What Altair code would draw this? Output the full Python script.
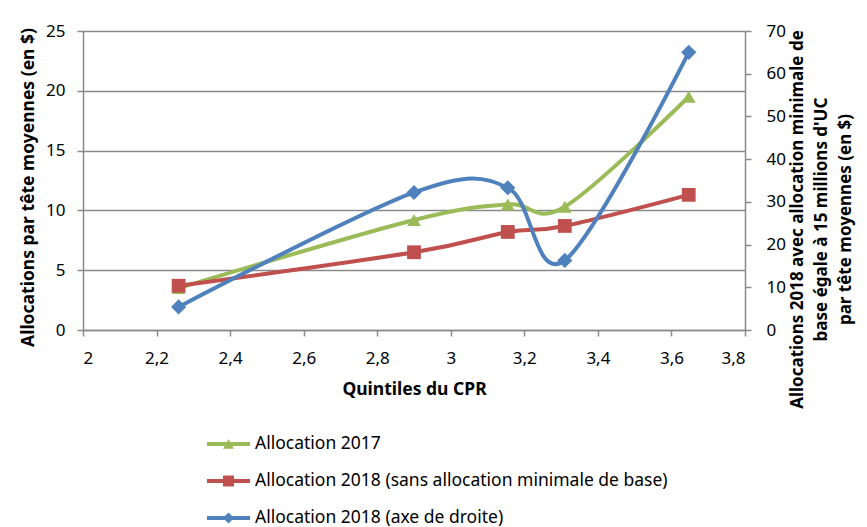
import altair as alt
import pandas as pd

# --- data ---
x_vals = [2.26, 2.9, 3.155, 3.31, 3.647]
alloc_2017 = [3.5, 9.2, 10.5, 10.3, 19.5]
alloc_2018_sans = [3.7, 6.5, 8.2, 8.7, 11.3]
alloc_2018_droite = [5.4, 32.2, 33.3, 16.3, 65.0]

series_names = [
    "Allocation 2017",
    "Allocation 2018 (sans allocation minimale de base)",
    "Allocation 2018 (axe de droite)",
]
colors = ["#9BBB59", "#C0504D", "#4F81BD"]
shapes = ["triangle-up", "square", "diamond"]

x_ticks = [2.0, 2.2, 2.4, 2.6, 2.8, 3.0, 3.2, 3.4, 3.6, 3.8]
left_ticks = [0, 5, 10, 15, 20, 25]
right_ticks = [0, 10, 20, 30, 40, 50, 60, 70]

FONT = "Noto Sans"
GRAY = "#8a8a8a"
W, H = 662, 299

df_left = pd.DataFrame({
    "x": x_vals * 2,
    "y": alloc_2017 + alloc_2018_sans,
    "serie": [series_names[0]] * 5 + [series_names[1]] * 5,
})
df_right = pd.DataFrame({"x": x_vals, "y": alloc_2018_droite, "serie": series_names[2]})

color_scale = alt.Scale(domain=series_names, range=colors)
shape_scale = alt.Scale(domain=series_names, range=shapes)

x_enc = alt.X(
    "x:Q",
    scale=alt.Scale(domain=[2, 3.8], nice=False),
    axis=alt.Axis(
        values=x_ticks,
        labelExpr="replace(toString(round(datum.value*10)/10), '.', ',')",
        title="Quintiles du CPR",
        grid=False,
        tickSize=6,
        labelPadding=14,
        titlePadding=14,
    ),
)

left_y = alt.Y(
    "y:Q",
    scale=alt.Scale(domain=[0, 25], nice=False),
    axis=alt.Axis(
        values=left_ticks,
        title="Allocations par tête moyennes (en $)",
        grid=True,
        tickSize=6,
        labelPadding=12,
        titlePadding=8,
        titleY=156,
    ),
)

right_y = alt.Y(
    "y:Q",
    scale=alt.Scale(domain=[0, 70], nice=False),
    axis=alt.Axis(
        orient="right",
        values=right_ticks,
        title=[
            "Allocations 2018 avec allocation minimale de",
            "base égale à 15 millions d'UC",
            "par tête moyennes (en $)",
        ],
        titleAngle=270,
        titleAlign="center",
        titleBaseline="middle",
        titleFontSize=17,
        titleLineHeight=24,
        titleX=52,
        titleY=188,
        grid=False,
        tickSize=6,
        labelPadding=15,
    ),
)

base_left = alt.Chart(df_left).encode(
    x=x_enc,
    y=left_y,
    color=alt.Color("serie:N", scale=color_scale, legend=None),
    shape=alt.Shape("serie:N", scale=shape_scale, legend=None),
    detail="serie:N",
)
left = alt.layer(
    base_left.mark_line(interpolate="cardinal", strokeWidth=4),
    base_left.mark_point(filled=True, opacity=1, size=190),
)

base_right = alt.Chart(df_right).encode(
    x=x_enc,
    y=right_y,
    color=alt.Color("serie:N", scale=color_scale, legend=None),
    shape=alt.Shape("serie:N", scale=shape_scale, legend=None),
)
right = alt.layer(
    base_right.mark_line(interpolate="cardinal", strokeWidth=4),
    base_right.mark_point(filled=True, opacity=1, size=230),
)

# --- legend drawn below the plot, inside the same layered chart ---
df_leg = pd.DataFrame({"serie": series_names})
leg_y = alt.Y("serie:N", sort=series_names, axis=None,
              scale=alt.Scale(type="point", padding=0, range=[413, 487]))
leg_base = alt.Chart(df_leg).encode(y=leg_y)
legend = alt.layer(
    leg_base.mark_rule(strokeWidth=4).encode(
        x=alt.value(124), x2=alt.value(167),
        color=alt.Color("serie:N", scale=color_scale, legend=None),
    ),
    leg_base.mark_point(filled=True, opacity=1, size=120).encode(
        x=alt.value(145.5),
        color=alt.Color("serie:N", scale=color_scale, legend=None),
        shape=alt.Shape("serie:N", scale=shape_scale, legend=None),
    ),
    leg_base.mark_text(align="left", baseline="middle", fontSize=17.5, font=FONT).encode(
        x=alt.value(172), text="serie:N", color=alt.value("#000000")
    ),
)

chart = alt.layer(left, right, legend).resolve_scale(y="independent").properties(
    width=W,
    height=H,
    autosize=alt.AutoSizeParams(type="none"),
    padding={"left": 75, "top": 23, "right": 114, "bottom": 197},
).configure_view(stroke=None).configure_axis(
    labelFont=FONT,
    titleFont=FONT,
    labelFontSize=17,
    titleFontSize=17.5,
    titleFontWeight="bold",
    labelColor="#000",
    titleColor="#000",
    domainColor=GRAY,
    tickColor=GRAY,
    gridColor=GRAY,
    domainWidth=1.5,
    tickWidth=1.5,
    gridWidth=1.5,
).configure_scale(continuousPadding=0)

chart.save("out.html", embed_options={"renderer": "svg", "actions": False})
